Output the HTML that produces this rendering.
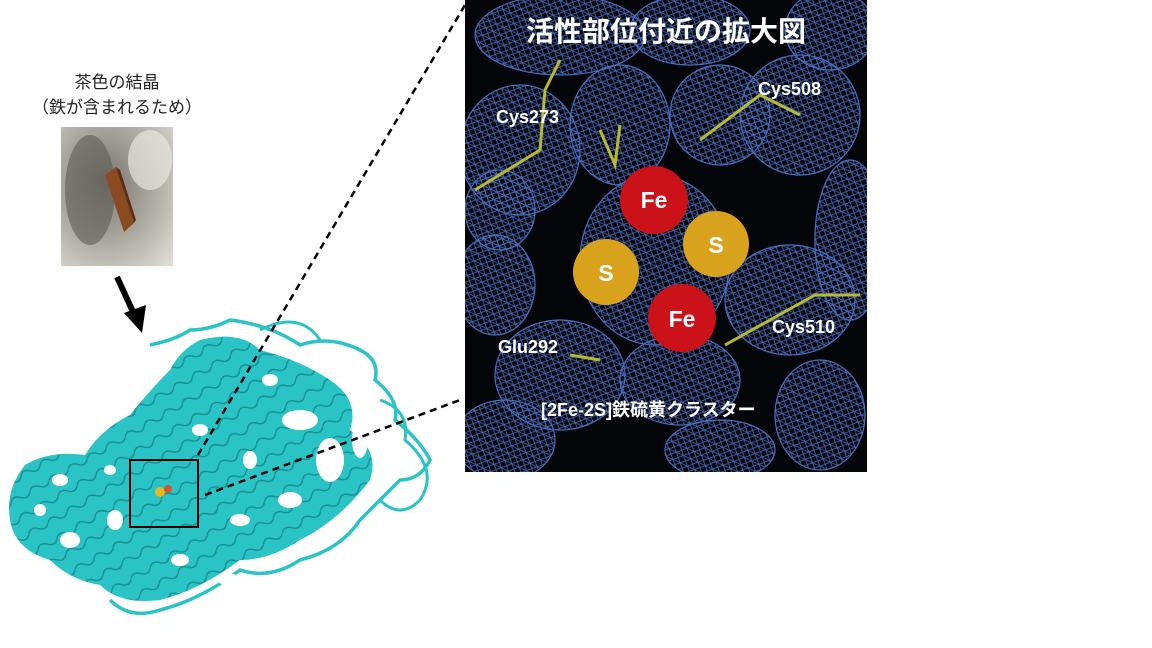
<!DOCTYPE html>
<html><head><meta charset="utf-8"><style>
html,body{margin:0;padding:0;background:#fff;width:1152px;height:648px;overflow:hidden}
svg{display:block}
</style></head><body>
<svg width="1152" height="648" viewBox="0 0 1152 648" xmlns="http://www.w3.org/2000/svg">
<defs>
<pattern id="mesh" width="8" height="8" patternUnits="userSpaceOnUse" patternTransform="rotate(25)">
<path d="M0 0L8 8M8 0L0 8M0 4H8" stroke="#4567b5" stroke-width="0.8" fill="none"/>
</pattern>
<pattern id="prot" width="22" height="18" patternUnits="userSpaceOnUse" patternTransform="rotate(-30)">
<rect width="22" height="18" fill="#2bc4c6"/>
<path d="M0 9 Q5 3 11 9 T22 9" stroke="#178f92" stroke-width="1.5" fill="none"/>
</pattern>
<clipPath id="pc"><rect x="465" y="0" width="402" height="472"/></clipPath>
<radialGradient id="ph" cx="0.4" cy="0.4" r="0.8"><stop offset="0" stop-color="#7a7770"/><stop offset="0.5" stop-color="#a8a59d"/><stop offset="1" stop-color="#dcdad2"/></radialGradient>
</defs>
<rect width="1152" height="648" fill="#fff"/>
<text x="117" y="88" font-family="Liberation Sans,Noto Sans CJK JP,sans-serif" font-size="17" text-anchor="middle" fill="#222">茶色の結晶</text>
<text x="117" y="113" font-family="Liberation Sans,Noto Sans CJK JP,sans-serif" font-size="17" text-anchor="middle" fill="#222">（鉄が含まれるため）</text>
<rect x="61" y="127" width="112" height="139" fill="url(#ph)"/>
<ellipse cx="90" cy="190" rx="25" ry="55" fill="#5f5c55" opacity="0.6"/>
<ellipse cx="150" cy="160" rx="22" ry="30" fill="#e8e6df" opacity="0.7"/>
<polygon points="105,175 116,167 134,223 124,232" fill="#8a4a22"/>
<polygon points="116,167 120,170 136,220 134,223" fill="#5e2e12"/>
<line x1="117" y1="277" x2="134" y2="314" stroke="#000" stroke-width="6"/>
<polygon points="124,313 146,305 142,333" fill="#000"/>
<g fill="none" stroke="#2bc4c6" stroke-width="3.5">
<path d="M150 345 Q175 340 190 330 Q210 330 230 320 Q270 325 300 345 Q330 335 360 350 Q380 360 375 380 Q400 400 395 420 Q420 440 430 460 Q420 480 400 480 Q380 500 360 520 Q340 550 300 560 Q270 580 240 570 Q200 600 160 610 Q130 620 110 600"/>
</g>
<path d="M200 340 Q240 330 260 350 Q300 360 330 380 Q360 400 350 430 Q380 450 370 480 Q340 520 300 540 Q270 560 240 560 Q200 590 160 600 Q120 605 100 585 Q70 580 50 560 Q15 550 10 520 Q5 490 25 465 Q50 450 85 455 Q100 430 130 415 Q150 390 170 370 Q180 350 200 340Z" fill="url(#prot)"/>
<g fill="#fff">
<ellipse cx="300" cy="420" rx="18" ry="10"/><ellipse cx="330" cy="460" rx="14" ry="22"/>
<ellipse cx="360" cy="440" rx="8" ry="18"/><ellipse cx="290" cy="500" rx="12" ry="8"/>
<ellipse cx="230" cy="580" rx="12" ry="6"/><ellipse cx="70" cy="540" rx="10" ry="8"/>
<ellipse cx="200" cy="430" rx="8" ry="6"/><ellipse cx="240" cy="520" rx="10" ry="6"/>
<ellipse cx="115" cy="520" rx="8" ry="10"/><ellipse cx="320" cy="360" rx="10" ry="6"/>
<ellipse cx="60" cy="480" rx="8" ry="6"/><ellipse cx="250" cy="460" rx="7" ry="9"/>
<ellipse cx="180" cy="560" rx="9" ry="6"/><ellipse cx="270" cy="380" rx="8" ry="6"/>
<ellipse cx="110" cy="470" rx="6" ry="5"/><ellipse cx="40" cy="510" rx="6" ry="6"/>
</g>
<g fill="none" stroke="#2bc4c6" stroke-width="3">
<path d="M380 400 Q410 410 405 440 Q440 470 420 500 Q400 520 380 500"/>
<path d="M260 330 Q300 310 320 340"/>
</g>
<rect x="130" y="460" width="68" height="67" fill="none" stroke="#000" stroke-width="2"/>
<circle cx="160" cy="492" r="5" fill="#e6b820"/><circle cx="168" cy="489" r="4" fill="#d3553a"/>
<line x1="198" y1="455" x2="465" y2="5" stroke="#000" stroke-width="2.5" stroke-dasharray="7,5"/>
<line x1="205" y1="495" x2="460" y2="400" stroke="#000" stroke-width="2.5" stroke-dasharray="7,5"/>
<rect x="465" y="0" width="402" height="472" fill="#040508"/>
<g clip-path="url(#pc)">
<g fill="url(#mesh)" stroke="#4a6fc0" stroke-width="1.2">
<ellipse cx="520" cy="150" rx="60" ry="65"/><ellipse cx="620" cy="125" rx="50" ry="60"/>
<ellipse cx="720" cy="115" rx="50" ry="50"/><ellipse cx="800" cy="115" rx="60" ry="60"/>
<ellipse cx="830" cy="30" rx="45" ry="40"/><ellipse cx="560" cy="35" rx="85" ry="40"/>
<ellipse cx="690" cy="30" rx="60" ry="35"/>
<ellipse cx="850" cy="240" rx="35" ry="80"/><ellipse cx="495" cy="285" rx="40" ry="50"/>
<ellipse cx="655" cy="260" rx="75" ry="85"/><ellipse cx="790" cy="300" rx="65" ry="55"/>
<ellipse cx="560" cy="375" rx="65" ry="55"/><ellipse cx="680" cy="380" rx="60" ry="45"/>
<ellipse cx="820" cy="415" rx="45" ry="55"/><ellipse cx="505" cy="440" rx="50" ry="40"/>
<ellipse cx="720" cy="450" rx="55" ry="30"/><ellipse cx="500" cy="210" rx="35" ry="40"/>
</g>
<g stroke="#b8b832" stroke-width="3" fill="none">
<path d="M475 190 L540 150 L545 90 L560 60"/><path d="M600 130 L615 165 L620 125"/>
<path d="M700 140 L760 95 L800 115"/><path d="M725 345 L815 295 L860 295"/>
<path d="M570 355 L600 360"/>
</g>
</g>
<text x="666" y="41" font-family="Liberation Sans,Noto Sans CJK JP,sans-serif" font-size="28" font-weight="bold" text-anchor="middle" fill="#fff">活性部位付近の拡大図</text>
<g font-family="Liberation Sans,sans-serif" font-weight="bold" font-size="18" fill="#fff">
<text x="496" y="123">Cys273</text><text x="758" y="95">Cys508</text>
<text x="772" y="333">Cys510</text><text x="498" y="353">Glu292</text>
<text x="541" y="416" font-family="Liberation Sans,Noto Sans CJK JP,sans-serif">[2Fe-2S]鉄硫黄クラスター</text>
</g>
<circle cx="654" cy="200" r="34" fill="#cc1219"/><circle cx="682" cy="318" r="34" fill="#cc1219"/>
<circle cx="606" cy="272" r="33" fill="#d9a21c"/><circle cx="716" cy="244" r="33" fill="#d9a21c"/>
<g font-family="Liberation Sans,sans-serif" font-weight="bold" font-size="23" fill="#fff" text-anchor="middle">
<text x="654" y="208">Fe</text><text x="682" y="327">Fe</text><text x="606" y="281">S</text><text x="716" y="253">S</text>
</g>
</svg>
</body></html>
